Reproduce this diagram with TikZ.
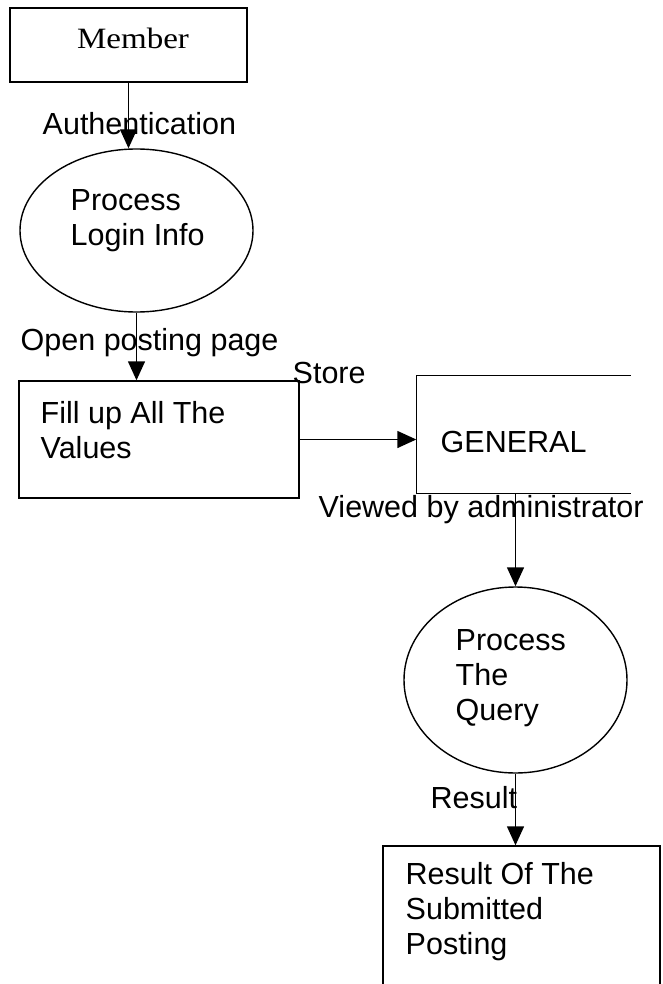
\documentclass[tikz,border=0pt]{standalone}
\usepackage{fontspec}
\setmainfont{Liberation Sans}
\newfontfamily\serifface[FakeStretch=1.12]{Liberation Serif}
\usetikzlibrary{shapes.geometric,arrows.meta}

\tikzset{
  box/.style={draw, rectangle, inner sep=0pt},
  proc/.style={draw, ellipse, inner sep=0pt},
  word/.style={anchor=base west, inner sep=0pt, font=\fontsize{30.5}{35}\selectfont},
  lines/.style={anchor=north west, inner sep=0pt, align=left, font=\fontsize{30.5}{35}\selectfont},
  flow/.style={-{Triangle[length=19pt,width=17pt]}},
}

\begin{document}
\begin{tikzpicture}[x=1pt, y=-1pt, line width=1.4pt]
\useasboundingbox (0,0) rectangle (662,984);

% shapes
\node[box, minimum width=237pt, minimum height=74pt] (member) at (128.5,45) {};
\node[proc, minimum width=233pt, minimum height=163pt] (login) at (136.5,230.5) {};
\node[box, minimum width=280pt, minimum height=117pt] (fill) at (159,439.5) {};
\node[minimum width=213pt, minimum height=117pt, inner sep=0pt] (store) at (523.5,434.5) {};
\draw (store.north east) -- (store.north west) -- (store.south west) -- (store.south east);
\node[proc, minimum width=223pt, minimum height=186pt] (query) at (515.5,680) {};
\node[box, minimum width=277pt, minimum height=150pt] (result) at (521.5,921) {};

% texts inside
\node[anchor=base, inner sep=0pt, font=\serifface\fontsize{29.5}{35}\selectfont] (membertxt) at (133,49) {Member};
\node[lines] (logintxt) at (70,189) {Process\\Login Info};
\node[lines] (filltxt) at (40,401) {Fill up All The\\Values};
\node[word] (storetxt) at (440,452) {GENERAL};
\node[lines] (querytxt) at (455,629) {Process\\The\\Query};
\node[lines] (resulttxt) at (405,862) {Result Of The\\Submitted\\Posting};

% flow labels
\node[word] (auth) at (42,135) {Authentication};
\node[word] (open) at (20,350) {Open posting page};
\node[word] (store lbl) at (292,383) {Store};
\node[word] (viewed) at (318,517) {Viewed by administrator};
\node[word] (res) at (430,808) {Result};

% flows
\draw[flow] (member.south) -- (member.south |- login.north);
\draw[flow] (login.south) -- (login.south |- fill.north);
\draw[flow] (fill.east) -- (fill.east -| store.west);
\draw[flow] (query.north |- store.south) -- (query.north);
\draw[flow] (query.south) -- (query.south |- result.north);
\end{tikzpicture}
\end{document}
